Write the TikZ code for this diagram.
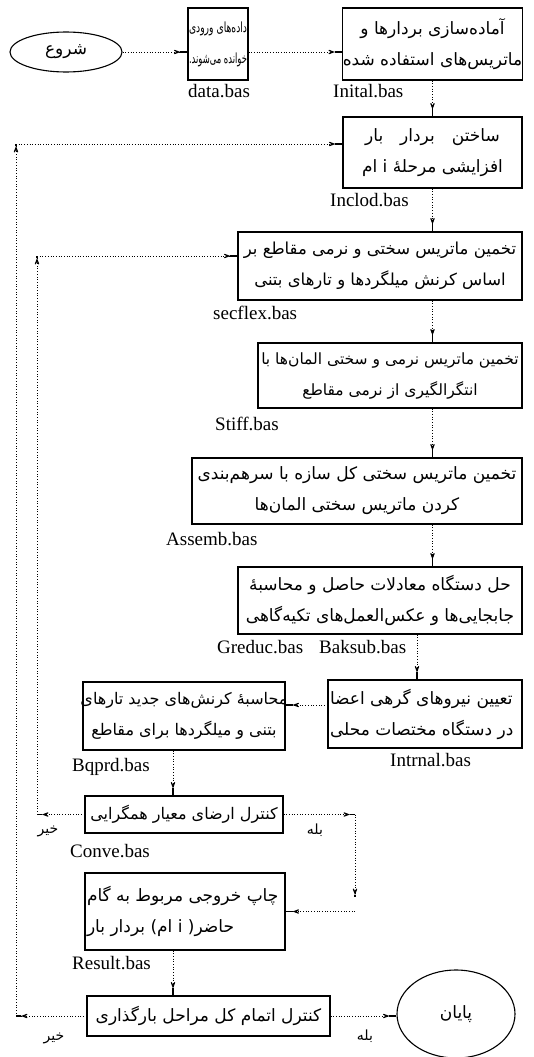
\documentclass[tikz,border=0pt]{standalone}
\usepackage{fontspec}
\usepackage{graphicx}
\setmainfont{Liberation Serif}
\newfontfamily\arfont[Script=Arabic]{DejaVu Sans}
\TeXXeTstate=1
\usetikzlibrary{arrows.meta,decorations.markings,shapes.geometric}
\newcommand\fatext{\arfont\fontsize{17pt}{31pt}\selectfont}
\newcommand\fasz[1]{\arfont\fontsize{#1}{31pt}\selectfont}
\newcommand\fb[2]{\makebox[#1][#2]}
\begin{document}
\begin{tikzpicture}[x=1pt,y=-1pt,
  box/.style={draw, line width=1.1pt, rectangle, inner sep=0pt, align=center, font=\fatext},
  ell/.style={draw, line width=1.1pt, ellipse, inner sep=0pt, font=\fatext},
  lab/.style={anchor=base west, inner sep=0pt, font=\fontsize{19pt}{19pt}\selectfont},
  fa/.style={inner sep=0pt, font=\arfont\fontsize{14pt}{14pt}\selectfont},
  flow/.style={dotted, line width=0.7pt,
    postaction={decorate, decoration={markings, mark=at position -#1 with {
      \draw[solid, line width=1.1pt] (0pt,0pt) -- (#1,0pt);
      \arrow[solid, line width=1.1pt]{Stealth[length=12pt,width=9pt,inset=8pt]};}}}},
  flow/.default=7pt]
\useasboundingbox (0,0) rectangle (533,1057);

% nodes
\node[ell, minimum width=112pt, minimum height=40pt] (start) at (66,52) {\beginR شروع\endR};
\node[box, minimum width=60pt, minimum height=72pt, font=\fasz{14pt}] (data) at (218,44)
  {\resizebox{58pt}{\height}{\beginR داده‌های ورودی\endR}\\\resizebox{58pt}{\height}{\beginR خوانده می‌شوند.\endR}};
\node[box, minimum width=180pt, minimum height=72pt] (inital) at (432.5,44)
  {\fb{176pt}{c}{\beginR آماده‌سازی بردارها و\endR}\\\fb{176pt}{c}{\beginR ماتریس‌های استفاده شده\endR}};
\node[box, minimum width=179pt, minimum height=71pt] (inclod) at (432.5,152.5)
  {\fb{175pt}{c}{\beginR ساختن\quad بردار\quad بار\endR}\\\fb{175pt}{c}{\beginR افزایشی مرحلهٔ i ام\endR}};
\node[box, minimum width=284pt, minimum height=68pt, font=\fasz{16.5pt}] (secflex) at (380,266)
  {\fb{280pt}{c}{\beginR تخمین ماتریس سختی و نرمی مقاطع بر\endR}\\\fb{280pt}{c}{\beginR اساس کرنش میلگردها و تارهای بتنی\endR}};
\node[box, minimum width=264pt, minimum height=65pt, font=\fasz{15.5pt}] (stiff) at (390,375.5)
  {\fb{260pt}{c}{\beginR تخمین ماتریس نرمی و سختی المان‌ها با\endR}\\\fb{260pt}{c}{\beginR انتگرالگیری از نرمی مقاطع\endR}};
\node[box, minimum width=330pt, minimum height=66pt] (assemb) at (357,491)
  {\fb{326pt}{c}{\beginR تخمین ماتریس سختی کل سازه با سرهم‌بندی\endR}\\\fb{326pt}{c}{\beginR کردن ماتریس سختی المان‌ها\endR}};
\node[box, minimum width=284pt, minimum height=67pt] (greduc) at (380,600.5)
  {\fb{280pt}{c}{\beginR حل دستگاه معادلات حاصل و محاسبهٔ\endR}\\\fb{280pt}{c}{\beginR جابجایی‌ها و عکس‌العمل‌های تکیه‌گاهی\endR}};
\node[box, minimum width=194pt, minimum height=68pt] (intrnal) at (425,714)
  {\fb{190pt}{l}{\beginR تعیین نیروهای گرهی اعضا\endR}\\\fb{190pt}{l}{\beginR در دستگاه مختصات محلی\endR}};
\node[box, minimum width=202pt, minimum height=68pt, font=\fasz{16pt}] (bqprd) at (184,716)
  {\fb{198pt}{c}{\beginR محاسبهٔ کرنش‌های جدید تارهای\endR}\\\fb{198pt}{c}{\beginR بتنی و میلگردها برای مقاطع\endR}};
\node[box, minimum width=198pt, minimum height=37pt, font=\fasz{16pt}] (conve) at (184,814.5)
  {\fb{194pt}{c}{\beginR کنترل ارضای معیار همگرایی\endR}};
\node[box, minimum width=200pt, minimum height=77pt] (result) at (185,911.5)
  {\fb{196pt}{l}{\beginR چاپ خروجی مربوط به گام\endR}\\\fb{196pt}{l}{\beginR حاضر( i ام) بردار بار\endR}};
\node[box, minimum width=243pt, minimum height=40pt] (final) at (208.5,1016)
  {\fb{239pt}{c}{\beginR کنترل اتمام کل مراحل بارگذاری\endR}};
\node[ell, minimum width=118pt, minimum height=88pt] (end) at (456,1014) {\beginR پایان\endR};

% file labels
\node[lab] (l1) at (188,97) {data.bas};
\node[lab] (l2) at (333,97) {Inital.bas};
\node[lab] (l3) at (330,206) {Inclod.bas};
\node[lab] (l4) at (213,319) {secflex.bas};
\node[lab] (l5) at (215,430) {Stiff.bas};
\node[lab] (l6) at (166,545) {Assemb.bas};
\node[lab] (l7) at (217,653) {Greduc.bas\hspace{16pt}Baksub.bas};
\node[lab] (l8) at (390,766) {Intrnal.bas};
\node[lab] (l9) at (72,771) {Bqprd.bas};
\node[lab] (l10) at (70,857) {Conve.bas};
\node[lab] (l11) at (72,969) {Result.bas};

% yes/no labels
\node[fa] (no1) at (48,831) {\beginR خیر\endR};
\node[fa] (yes1) at (315,830) {\beginR بله\endR};
\node[fa] (no2) at (54,1038) {\beginR خیر\endR};
\node[fa] (yes2) at (365,1036) {\beginR بله\endR};

% helper coordinates
\coordinate (cL) at (37,814.5);
\coordinate (cLt) at (37,256);
\coordinate (cR) at (355,814.5);
\coordinate (cRb) at (355,897);
\coordinate (cRr) at (355,911.5);
\coordinate (cO1) at (16,1016);
\coordinate (cO2) at (16,144);

% main connectors
\draw[flow] (start.east) -- (start.east -| data.west);
\draw[flow] (data.east |- start.east) -- (inital.west |- start.east);
\draw[flow] (inital) -- (inclod);
\draw[flow] (inclod.south) -- (inclod.south |- secflex.north);
\draw[flow] (inclod.south |- secflex.south) -- (inclod.south |- stiff.north);
\draw[flow] (inclod.south |- stiff.south) -- (inclod.south |- assemb.north);
\draw[flow] (inclod.south |- assemb.south) -- (inclod.south |- greduc.north);
\draw[flow] (417,0 |- greduc.south) -- (417,0 |- intrnal.north);
\draw[flow] (intrnal.west |- 0,705) -- (bqprd.east |- 0,705);
\draw[flow] (173,0 |- bqprd.south) -- (173,0 |- conve.north);
\draw[flow] (173,0 |- result.south) -- (173,0 |- final.north);
\draw[flow] (final.east) -- (end.west |- final.east);

% inner loop
\draw[flow=5pt] (conve.west) -- (cL);
\draw[flow=2pt] (cL) -- (cLt);
\draw[flow] (cLt) -- (cLt -| secflex.west);
% right branch
\draw[flow=5pt] (conve.east) -- (cR);
\draw[flow=2pt] (cR) -- (cRb);
\draw[flow] (cRr) -- (result.east);
% outer loop
\draw[flow=5pt] (final.west) -- (cO1);
\draw[flow=2pt] (cO1) -- (cO2);
\draw[flow] (cO2) -- (cO2 -| inclod.west);
\end{tikzpicture}
\end{document}
